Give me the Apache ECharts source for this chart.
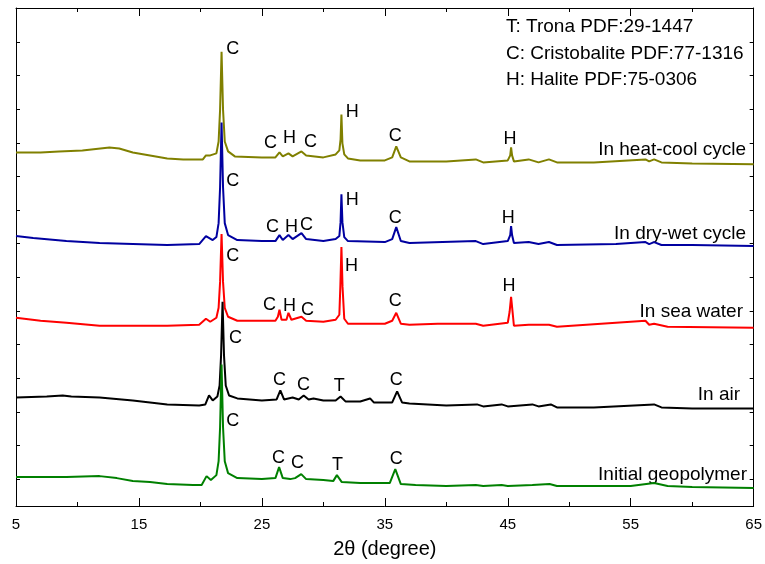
<!DOCTYPE html>
<html style="height: 100%">
<head>
    <meta charset="utf-8">
    <script src="https://cdn.jsdelivr.net/npm/echarts@6/dist/echarts.min.js"></script>
</head>
<body style="height: 100%; margin: 0">
    <div id="main" style="width: 765px; height: 564px"></div>
    <script type="text/javascript">
        // 2theta (deg), intensity (a.u., patterns already offset)
        var heatCool = [[5, 355], [7, 355], [8.5, 356], [10.4, 357], [12.6, 360], [13.4, 359], [14.5, 355], [15.9, 352], [17.3, 349], [18.6, 348], [20.2, 348], [20.45, 352], [20.8, 352], [21.3, 354], [21.48, 366], [21.6, 398], [21.72, 456], [21.84, 398], [21.98, 366], [22.25, 356], [22.8, 351], [25, 350], [26.1, 350], [26.43, 355], [26.7, 351], [27.16, 354], [27.5, 351], [28.22, 356], [28.6, 352], [30, 350], [31.0, 353], [31.3, 357], [31.4, 368], [31.47, 393], [31.55, 364], [31.7, 353], [32, 349], [33, 347], [35, 347], [35.6, 350], [35.93, 361], [36.3, 350], [37, 346], [40, 346], [42.4, 348], [43, 345], [45.0, 347], [45.2, 352], [45.27, 360], [45.35, 352], [45.5, 346], [46.7, 348], [47.5, 345], [48.35, 348], [49, 345], [52, 345], [56.2, 348], [56.5, 346], [56.9, 348], [57.5, 345], [60, 344], [65, 343]];
        var dryWet = [[5, 271], [6.4, 269], [9.1, 266], [11.8, 264], [14.5, 263], [17.3, 262], [19.9, 263], [20.45, 271], [21.0, 267], [21.3, 270], [21.48, 284], [21.6, 320], [21.72, 385], [21.84, 320], [21.98, 284], [22.25, 272], [23, 267], [25, 266], [26.1, 266], [26.43, 272], [26.7, 267], [27.16, 272], [27.5, 268], [28.22, 274], [28.6, 268], [30, 266], [31.0, 268], [31.3, 271], [31.4, 285], [31.47, 313], [31.55, 285], [31.7, 270], [32, 266], [35, 265], [35.6, 268], [35.93, 280], [36.3, 266], [37, 264], [42.4, 266], [43, 263], [45.0, 266], [45.2, 272], [45.27, 281], [45.35, 272], [45.5, 264], [46.7, 265], [47.5, 263], [48.35, 265], [49, 262], [53.8, 263], [56.2, 265], [56.5, 263], [56.9, 265], [57.5, 262], [60, 262], [65, 261]];
        var seaWater = [[5, 189], [7, 186], [9.1, 184], [11.8, 181], [14.5, 181], [17.3, 181], [19.9, 182], [20.45, 188], [20.8, 185], [21.3, 189], [21.48, 199], [21.6, 225], [21.72, 273], [21.84, 225], [21.98, 199], [22.25, 190], [23, 186], [26.1, 186], [26.3, 190], [26.43, 197], [26.6, 187], [27.0, 187], [27.16, 194], [27.4, 187], [28.22, 190], [28.6, 186], [30, 185], [31.0, 187], [31.3, 192], [31.38, 220], [31.47, 260], [31.56, 220], [31.7, 188], [32, 183], [35, 183], [35.6, 186], [35.93, 194], [36.3, 183], [37, 182], [39.3, 183], [42.4, 183], [43, 181], [45.0, 184], [45.15, 195], [45.27, 210], [45.39, 195], [45.5, 181], [46.7, 182], [48.35, 182], [49, 180], [56.2, 186], [56.5, 182], [56.9, 183], [58, 180], [65, 179]];
        var inAir = [[5, 109], [7.5, 110], [8.8, 111], [9.5, 110], [11.8, 109], [14.5, 106], [15.9, 104], [17.3, 102], [19.9, 101], [20.4, 102], [20.7, 111], [21.0, 106], [21.38, 110], [21.56, 121], [21.68, 151], [21.8, 205], [21.92, 151], [22.06, 121], [22.33, 111], [23, 108], [25, 106], [26.2, 107], [26.5, 116], [26.8, 107], [27.5, 109], [28.0, 107], [28.4, 111], [28.8, 107], [29.2, 108], [30, 106], [31.0, 106], [31.4, 110], [31.8, 105], [33.0, 105], [33.8, 108], [34.1, 104], [35.6, 104], [36.0, 115], [36.4, 104], [37, 103], [40, 101], [42.5, 102], [43, 100], [44.5, 102], [45, 100], [47.0, 102], [47.5, 100], [48.5, 102], [49, 99], [52, 99], [56.9, 102], [57.5, 99], [60, 98], [65, 98]];
        var initial = [[5, 29], [9.1, 29], [11.8, 30], [13.2, 28], [14.5, 25], [15.9, 24], [17.3, 22], [19.4, 21], [20.1, 21], [20.5, 30], [20.85, 26], [21.3, 31], [21.48, 45], [21.6, 79], [21.72, 142], [21.84, 79], [21.98, 45], [22.25, 33], [23, 28], [25, 27], [26.1, 28], [26.4, 39], [26.7, 28], [27.3, 27], [27.7, 28], [28.2, 32], [28.6, 27], [30, 26], [30.8, 25], [31.1, 31], [31.5, 24], [33, 23], [35.4, 23], [35.85, 37], [36.3, 22], [37.5, 21], [40, 20], [42.4, 21], [43, 20], [44.5, 21], [45, 20], [47, 21], [48.4, 22], [49, 20], [55, 20], [56.9, 23], [58, 20], [60, 19], [65, 18]];

        var seriesNames = ['In heat-cool cycle', 'In dry-wet cycle', 'In sea water', 'In air', 'Initial geopolymer'];
        var seriesColors = ['#808000', '#0000a0', '#ff0000', '#000000', '#008000'];

        // phase letters: [2theta, intensity, letter]
        var peakLabels = [
            [22.62, 459, 'C'], [25.7, 364, 'C'], [27.25, 369, 'H'], [28.95, 365, 'C'], [32.36, 396, 'H'], [35.85, 371, 'C'], [45.19, 368, 'H'],
            [22.62, 326, 'C'], [25.87, 280, 'C'], [27.41, 280, 'H'], [28.63, 282, 'C'], [32.36, 307, 'H'], [35.85, 289, 'C'], [45.03, 289, 'H'],
            [22.62, 251, 'C'], [25.62, 202, 'C'], [27.25, 201, 'H'], [28.71, 197, 'C'], [32.28, 241, 'H'], [35.85, 206, 'C'], [45.11, 221, 'H'],
            [22.86, 169, 'C'], [26.43, 126, 'C'], [28.38, 121, 'C'], [31.3, 120, 'T'], [35.93, 126, 'C'],
            [22.62, 85, 'C'], [26.35, 48, 'C'], [27.9, 43, 'C'], [31.14, 41, 'T'], [35.93, 47, 'C']
        ];

        var phaseNotes = ['T: Trona PDF:29-1447', 'C: Cristobalite PDF:77-1316', 'H: Halite PDF:75-0306'];

        var yTicks = [];
        for (var k = 0; k < 14; k++) yTicks.push(27 + k * 33.77);

        var FONT = 'Liberation Sans, Arial, sans-serif';
        var chart = echarts.init(document.getElementById('main'));

        var dataSets = [heatCool, dryWet, seaWater, inAir, initial];
        var series = dataSets.map(function (d, i) {
            return {
                name: seriesNames[i],
                type: 'line',
                data: d,
                showSymbol: false,
                silent: true,
                lineStyle: { color: seriesColors[i], width: 2 },
                itemStyle: { color: seriesColors[i] },
                z: 2 + i
            };
        });
        series.push({
            type: 'scatter',
            data: peakLabels,
            symbolSize: 1,
            silent: true,
            itemStyle: { color: 'rgba(0,0,0,0)', opacity: 1 },
            label: {
                show: true,
                position: 'inside',
                formatter: function (p) { return p.data[2]; },
                color: '#000',
                textBorderWidth: 0,
                fontSize: 18,
                fontFamily: FONT
            },
            z: 10
        });

        var rightX = [746, 746, 743, 740, 747];
        var nameY = [150, 234, 312, 395, 475];
        var graphic = [];
        phaseNotes.forEach(function (t, i) {
            graphic.push({
                type: 'text', x: 506, y: 27 + i * 26.5,
                style: { text: t, font: '19px ' + FONT, fill: '#000', align: 'left', verticalAlign: 'middle' }
            });
        });
        seriesNames.forEach(function (t, i) {
            graphic.push({
                type: 'text', x: rightX[i], y: nameY[i],
                style: { text: t, font: '19px ' + FONT, fill: '#000', align: 'right', verticalAlign: 'middle' }
            });
        });

        var xBase = {
            type: 'value', min: 5, max: 65, interval: 10,
            axisLine: { onZero: false, lineStyle: { color: '#000', width: 1 } },
            axisTick: { inside: true, length: 8, lineStyle: { color: '#000' } },
            minorTick: { show: true, splitNumber: 2, length: 4, lineStyle: { color: '#000' } },
            splitLine: { show: false },
            minorSplitLine: { show: false }
        };
        var yBase = {
            type: 'value', min: 0, max: 500,
            axisLine: { show: true, onZero: false, lineStyle: { color: '#000', width: 1 } },
            axisTick: { show: true, inside: true, length: 4, customValues: yTicks, lineStyle: { color: '#000' } },
            axisLabel: { show: false },
            splitLine: { show: false }
        };

        var option = {
            animation: false,
            backgroundColor: '#fff',
            grid: { left: 16, right: 10, top: 8, bottom: 56 },
            xAxis: [
                Object.assign({}, xBase, {
                    position: 'bottom',
                    name: '2\u03b8 (degree)',
                    nameLocation: 'middle',
                    nameGap: 33,
                    nameTextStyle: { fontSize: 20, color: '#000', fontFamily: FONT },
                    axisLabel: { margin: 11, fontSize: 15, color: '#000', fontFamily: FONT }
                }),
                Object.assign({}, xBase, {
                    position: 'top',
                    axisLabel: { show: false }
                })
            ],
            yAxis: [
                Object.assign({}, yBase, { position: 'left' }),
                Object.assign({}, yBase, { position: 'right' })
            ],
            graphic: graphic,
            series: series
        };
        chart.setOption(option);
    </script>
</body>
</html>
